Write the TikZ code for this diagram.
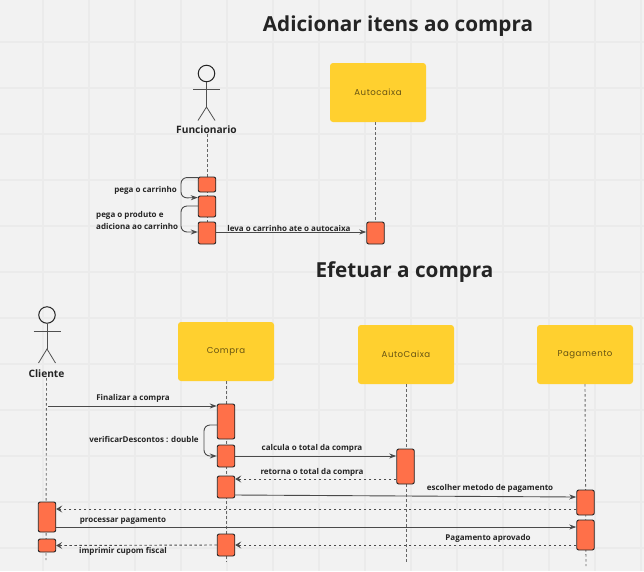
\documentclass[tikz,border=0pt]{standalone}
\usepackage{fontspec}
\setmainfont{Open Sans}
\newfontfamily\boxfont[LetterSpace=6]{Poppins}
\usetikzlibrary{arrows.meta,calc}
\definecolor{bgc}{HTML}{F2F2F2}
\definecolor{gridc}{HTML}{EBEBEB}
\definecolor{yel}{HTML}{FFD02F}
\definecolor{org}{HTML}{FF7049}
\definecolor{ink}{HTML}{242424}
\definecolor{lne}{HTML}{4A4A4A}
\tikzset{
  x=1pt,y=-1pt,
  title/.style={font=\fontsize{20.7}{24}\selectfont\bfseries,text=ink,inner sep=0pt},
  msg/.style={font=\fontsize{8}{12}\selectfont\bfseries,text=ink,inner sep=0pt},
  actorname/.style={font=\fontsize{10.2}{12}\selectfont\bfseries,text=ink,inner sep=0pt},
  yelbox/.style={fill=yel,rounded corners=3pt,minimum width=96pt,minimum height=59pt,inner sep=0pt,
    font=\boxfont\fontsize{8.6}{10}\selectfont,text=black!60!yel},
  act/.style={draw=ink,fill=org,line width=0.9pt,rounded corners=2pt,minimum width=17.5pt,inner sep=0pt},
  life/.style={draw=black!60,line width=0.9pt,dash pattern=on 2.5pt off 2.5pt},
  call/.style={draw=lne,line width=0.9pt,-{Stealth[length=7pt,width=5pt]},rounded corners=6pt},
  back/.style={draw=lne,line width=0.9pt,dash pattern=on 2.5pt off 2.5pt,
    -{Stealth[length=6pt,width=7pt,inset=2.5pt]}},
  stick/.style={draw=ink!80,line width=0.8pt},
}
\begin{document}
\begin{tikzpicture}
\useasboundingbox (0,0) rectangle (644,571);
\fill[bgc] (0,0) rectangle (644,571);
\foreach \gx in {43,89,135,181,227,273,319,365,411,457,503,549,595,641}
  \draw[gridc,line width=1.1pt] (\gx,0) -- (\gx,571);
\foreach \gy in {42,88,134,180,226,272,318,364,410,456,502,548}
  \draw[gridc,line width=1.1pt] (0,\gy) -- (644,\gy);

% titles
\node[title] (t1) at (398,26) {Adicionar itens ao compra};
\node[title] (t2) at (404.5,272) {Efetuar a compra};

% actors
\node[circle,draw=ink,line width=1pt,minimum size=16.5pt,inner sep=0pt] (fh) at (206.5,73.5) {};
\coordinate (fb) at (206.5,107);
\coordinate (fa) at (206.5,89);
\draw[stick] (fh.south) -- (fb);
\draw[stick] ($(fa)+(-13.5,0)$) -- ($(fa)+(13.5,0)$);
\draw[stick] ($(fb)+(-8.5,13.5)$) -- (fb) -- ($(fb)+(8.5,13.5)$);
\node[actorname] (fn) at (206.5,130) {Funcionario};

\node[circle,draw=ink,line width=1pt,minimum size=16.5pt,inner sep=0pt] (ch) at (47,315) {};
\coordinate (cb) at (47,349);
\coordinate (ca) at (47,331);
\draw[stick] (ch.south) -- (cb);
\draw[stick] ($(ca)+(-13.5,0)$) -- ($(ca)+(13.5,0)$);
\draw[stick] ($(cb)+(-8.5,14)$) -- (cb) -- ($(cb)+(8.5,14)$);
\node[actorname] (cn) at (46.5,374) {Cliente};

% boxes
\node[yelbox] (ac1) at (378,92.5) {Autocaixa};
\node[yelbox] (cp) at (226,351.5) {Compra};
\node[yelbox] (ac2) at (406,354.5) {AutoCaixa};
\node[yelbox] (pg) at (585,354.5) {Pagamento};

% lifelines
\coordinate (fe) at (207,177);
\coordinate (ce) at (46,560);
\coordinate (cpe) at (226,562);
\coordinate (ac2e) at (406,562);
\coordinate (pge) at (586,566);
\draw[life] (fn.south -| fe) -- (fe);
\draw[life] (207,190) -- (207,222);
\draw[life] (ac1.south -| 375,0) -- (375,222);
\draw[life] (cn.south) -- (ce);
\draw[life] (cp.south) -- (cpe);
\draw[life] (ac2.south) -- (ac2e);
\draw[life] (pg.south) -- (pge);

% activations, upper diagram
\node[act,minimum height=15pt] (a1) at (207,184.5) {};
\node[act,minimum height=21pt] (a2) at (207,206.5) {};
\node[act,minimum height=22pt] (a3) at (207,233) {};
\node[act,minimum height=22pt] (a4) at (375.5,233) {};

% activations, lower diagram
\node[act,minimum height=35pt] (c1) at (226,421.5) {};
\node[act,minimum height=22pt] (c2) at (226,456) {};
\node[act,minimum height=22pt] (c3) at (226,487) {};
\node[act,minimum height=22pt] (c4) at (226,545) {};
\node[act,minimum height=35pt] (d1) at (405.5,466.5) {};
\node[act,minimum height=25pt] (p1) at (585.5,502.5) {};
\node[act,minimum height=30pt] (p2) at (585.5,535) {};
\node[act,minimum height=30pt] (k1) at (47,517) {};
\node[act,minimum height=13pt] (k2) at (47,545.5) {};

% messages, upper diagram
\draw[call] ($(a1.north west)+(0,1)$) -| (181,198) -- ($(a2.north west)+(0,2)$);
\draw[call] ($(a2.west)+(0,-0.5)$) -| (181,232) -- (a3.west |- 0,232);
\draw[call] (a3.east |- 0,232) -- (a4.west |- 0,232);
\node[msg,anchor=east] (l1) at (177,190) {pega o carrinho};
\node[msg,anchor=west,align=left] (l2) at (96,220) {pega o produto e\\adiciona ao carrinho};
\node[msg] (l3) at (289,228) {leva o carrinho ate o autocaixa};

% messages, lower diagram
\coordinate (fin) at (48,406);
\draw[call] (fin) -- (c1.west |- fin);
\draw[call] ($(c1.west)+(0,3.5)$) -| (204,456) -- (c2.west);
\draw[call] (c2.east) -- (c2.east -| d1.west);
\draw[back] (d1.west |- 0,479) -- (c3.east |- 0,479);
\draw[call] (c3.east |- 0,495) -- (p1.west |- 0,497);
\draw[back] (p1.west |- 0,509) -- (k1.east |- 0,509);
\draw[call] (k1.east |- 0,527) -- (p2.west |- 0,527);
\draw[back] (p2.west |- 0,545) -- (c4.east);
\draw[back] (c4.west) -- (k2.east);
\node[msg] (m1) at (133,398.5) {Finalizar a compra};
\node[msg] (m2) at (144,439.5) {verificarDescontos : double};
\node[msg] (m3) at (312,448.5) {calcula o total da compra};
\node[msg] (m4) at (312,472.5) {retorna o total da compra};
\node[msg] (m5) at (490,488) {escolher metodo de pagamento};
\node[msg] (m6) at (123,521) {processar pagamento};
\node[msg] (m7) at (488,538) {Pagamento aprovado};
\node[msg] (m8) at (123,551) {imprimir cupom fiscal};
\end{tikzpicture}
\end{document}
